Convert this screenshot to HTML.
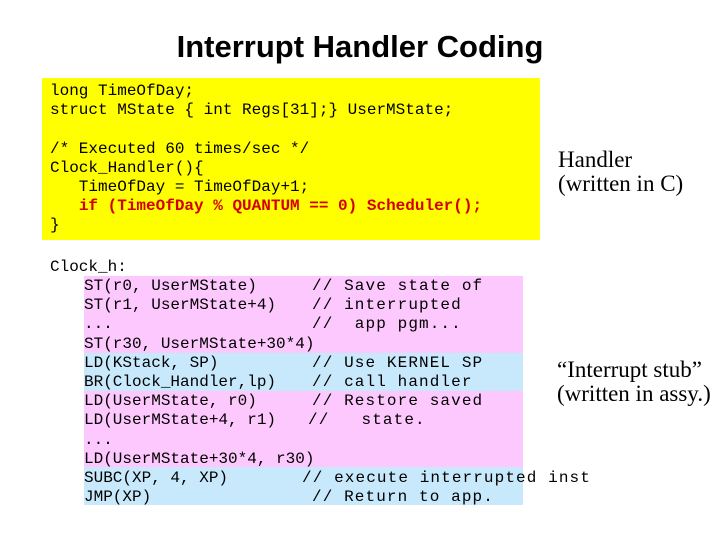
<!DOCTYPE html>
<html><head><style>
body{margin:0;width:720px;height:540px;background:#fff;position:relative;overflow:hidden}
.t{position:absolute;left:0;width:720px;text-align:center;top:29px;font:bold 31px "Liberation Sans",sans-serif}
.m{position:absolute;font:16px/19.2px "Liberation Mono",monospace;white-space:pre;color:#000}
.c{letter-spacing:1.1px}
.bg{position:absolute}
.s{position:absolute;font:23px/24px "Liberation Serif",serif;white-space:pre}
</style></head><body>
<div class="t">Interrupt Handler Coding</div>
<div class="bg" style="left:42px;top:78px;width:498px;height:162px;background:#ffff00"></div>
<div class="m" style="left:50px;top:82px">long TimeOfDay;
struct MState { int Regs[31];} UserMState;

/* Executed 60 times/sec */
Clock_Handler(){
   TimeOfDay = TimeOfDay+1;
   <b style="color:#d40000">if (TimeOfDay % QUANTUM == 0) Scheduler();</b>
}</div>
<div class="s" style="left:558px;top:148px">Handler
(written in C)</div>
<div class="bg" style="left:84px;top:276px;width:439px;height:77px;background:#fdc8fd"></div>
<div class="bg" style="left:84px;top:353px;width:439px;height:38px;background:#c8e8fc"></div>
<div class="bg" style="left:84px;top:391px;width:439px;height:76px;background:#fdc8fd"></div>
<div class="bg" style="left:84px;top:467px;width:439px;height:38px;background:#c8e8fc"></div>
<div class="m" style="left:50px;top:258px">Clock_h:</div>
<div class="m" style="left:84px;top:277px">ST(r0, UserMState)
ST(r1, UserMState+4)
...
ST(r30, UserMState+30*4)
LD(KStack, SP)
BR(Clock_Handler,lp)
LD(UserMState, r0)
LD(UserMState+4, r1)
...
LD(UserMState+30*4, r30)
SUBC(XP, 4, XP)
JMP(XP)</div>
<div class="m c" style="left:312px;top:277px">// Save state of
// interrupted
//  app pgm...
</div>
<div class="m c" style="left:312px;top:354px">// Use KERNEL SP
// call handler
// Restore saved</div>
<div class="m c" style="left:308px;top:411px">//   state.</div>
<div class="m c" style="left:302px;top:469px">// execute interrupted inst</div>
<div class="m c" style="left:312px;top:488px">// Return to app.</div>
<div class="s" style="left:557px;top:358px">“Interrupt stub”
(written in assy.)</div>
</body></html>
